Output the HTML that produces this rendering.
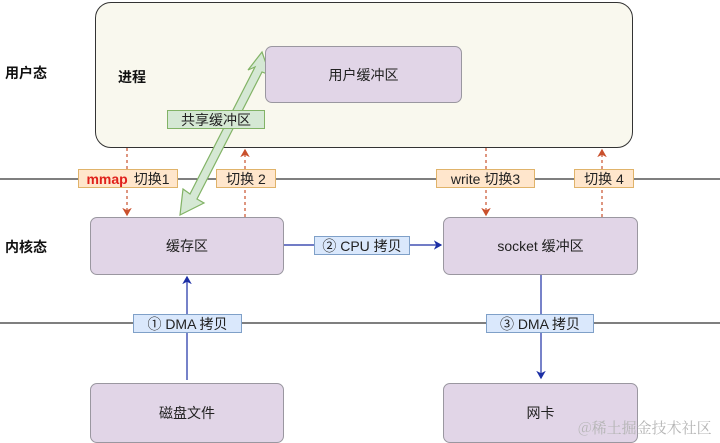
<!DOCTYPE html>
<html><head><meta charset="utf-8"><style>
body{margin:0;width:720px;height:443px;background:#fff;overflow:hidden;position:relative;font-family:"Liberation Sans","Noto Sans CJK SC",sans-serif;}
.b{position:absolute;box-sizing:border-box;display:flex;align-items:center;justify-content:center;}
.p{background:#e1d5e7;border:1px solid #9a97a0;border-radius:7px;font-size:14px;color:#222;}
.l{font-size:14px;color:#222;height:19px;white-space:nowrap;}
.y{background:#ffe6cc;border:1px solid #e0b36a;}
.bl{background:#dae8fc;border:1px solid #7fa0c8;}
.t{position:absolute;font-size:14px;font-weight:bold;color:#111;}
</style></head><body>
<div class="b" style="left:95px;top:2px;width:538px;height:146px;background:#f9f8ee;border:1.5px solid #333;border-radius:16px;"></div>
<div class="t" style="left:5px;top:63px">用户态</div>
<div class="t" style="left:118px;top:67px">进程</div>
<div class="t" style="left:5px;top:237px">内核态</div>
<svg width="720" height="443" style="position:absolute;left:0;top:0">
<defs>
<marker id="o" markerWidth="8" markerHeight="8" refX="6" refY="4" orient="auto"><path d="M0,0 L7,4 L0,8 L2,4z" fill="#c9502c"/></marker>
<marker id="b" markerWidth="8" markerHeight="8" refX="6" refY="4" orient="auto"><path d="M0,0 L7,4 L0,8 L2,4z" fill="#1c2fa5"/></marker>
</defs>
<line x1="0" y1="179" x2="720" y2="179" stroke="#333" stroke-width="1.2"/>
<line x1="0" y1="323" x2="720" y2="323" stroke="#333" stroke-width="1.2"/>
<g stroke="#c9502c" stroke-dasharray="3,3" stroke-width="1.2" marker-end="url(#o)">
<line x1="127" y1="148" x2="127" y2="215"/>
<line x1="245" y1="217" x2="245" y2="150"/>
<line x1="486" y1="148" x2="486" y2="215"/>
<line x1="602" y1="217" x2="602" y2="150"/>
</g>
<g stroke="#1c2fa5" stroke-width="1.2" marker-end="url(#b)">
<line x1="284" y1="245" x2="441" y2="245"/>
<line x1="187" y1="380" x2="187" y2="277"/>
<line x1="541" y1="275" x2="541" y2="378"/>
</g>
<polygon points="262,52 270,75 262,72 197,199 204,203 180,215 183,189 190,194 255,67 248,70" fill="#d5e8d4" stroke="#82b366" stroke-width="1.2"/>
</svg>
<div class="b p" style="left:265px;top:46px;width:197px;height:57px">用户缓冲区</div>
<div class="b l" style="left:167px;top:110px;width:98px;background:#d5e8d4;border:1px solid #82b366;">共享缓冲区</div>
<div class="b l y" style="left:78px;top:169px;width:100px"><b style="color:#e0201b;margin-right:6px">mmap</b>切换1</div>
<div class="b l y" style="left:216px;top:169px;width:60px">切换 2</div>
<div class="b l y" style="left:436px;top:169px;width:99px">write 切换3</div>
<div class="b l y" style="left:574px;top:169px;width:60px">切换 4</div>
<div class="b p" style="left:90px;top:217px;width:194px;height:58px">缓存区</div>
<div class="b p" style="left:443px;top:217px;width:195px;height:58px">socket 缓冲区</div>
<div class="b l bl" style="left:314px;top:236px;width:96px">② CPU 拷贝</div>
<div class="b l bl" style="left:133px;top:314px;width:109px">① DMA 拷贝</div>
<div class="b l bl" style="left:486px;top:314px;width:108px">③ DMA 拷贝</div>
<div class="b p" style="left:90px;top:383px;width:194px;height:60px">磁盘文件</div>
<div class="b p" style="left:443px;top:383px;width:195px;height:60px">网卡</div>
<div style="position:absolute;left:578px;top:417px;font-size:15px;color:#b5b5b5;font-family:'Noto Serif CJK SC',serif">@稀土掘金技术社区</div>
</body></html>
